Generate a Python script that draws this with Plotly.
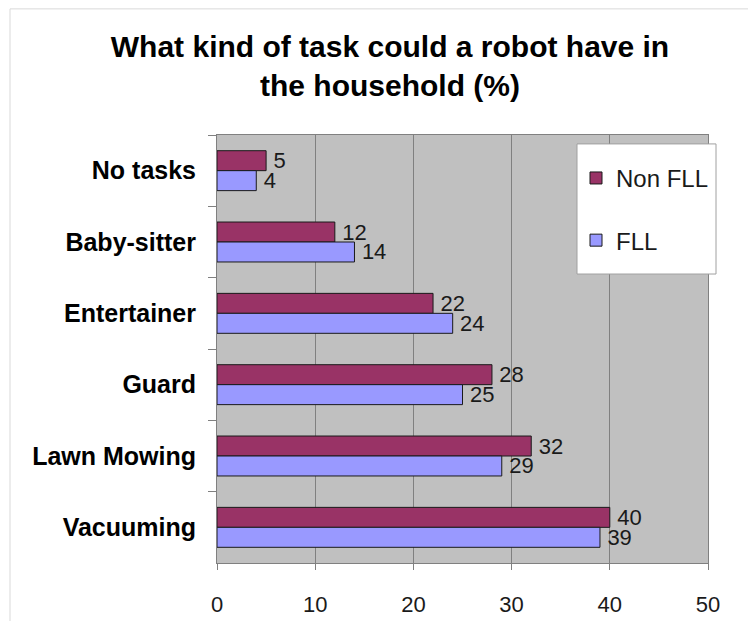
import plotly.graph_objects as go

# ---- data ----
categories = ["No tasks", "Baby-sitter", "Entertainer", "Guard", "Lawn Mowing", "Vacuuming"]
non_fll = [5, 12, 22, 28, 32, 40]
fll = [4, 14, 24, 25, 29, 39]
series_names = ["Non FLL", "FLL"]
x_ticks = [0, 10, 20, 30, 40, 50]
title_text = "What kind of task could a robot have in<br>the household (%)"

# ---- layout geometry (pixels, page has an 8px body offset) ----
OFF = 8
W, H = 756, 621
L, R, T, B = 217 - OFF, 56, 135 - OFF, 63
PW = W - L - R
PH = H - T - B


def px_x(p):
    return (p - OFF - L) / PW


def px_y(p):
    return (H - B - (p - OFF)) / PH


fig = go.Figure()
fig.add_trace(go.Bar(
    y=categories, x=non_fll, name=series_names[0], orientation="h",
    marker=dict(color="#993366", line=dict(color="#1a1a1a", width=1)),
    text=[f"\u2009{v}" for v in non_fll], textposition="outside",
    textfont=dict(family="Arial, Liberation Sans", size=22, color="#1a1a1a"),
    constraintext="none", cliponaxis=False, legendgroup="a",
))
fig.add_trace(go.Bar(
    y=categories, x=fll, name=series_names[1], orientation="h",
    marker=dict(color="#9999FF", line=dict(color="#1a1a1a", width=1)),
    text=[f"\u2009{v}" for v in fll], textposition="outside",
    textfont=dict(family="Arial, Liberation Sans", size=22, color="#1a1a1a"),
    constraintext="none", cliponaxis=False, legendgroup="b",
))

fig.update_layout(
    width=W, height=H,
    margin=dict(l=L, r=R, t=T, b=B, pad=0),
    paper_bgcolor="white",
    plot_bgcolor="#C0C0C0",
    barmode="group",
    bargap=0.44,
    bargroupgap=0,
    font=dict(family="Arial, Liberation Sans", color="#1a1a1a"),
    title=dict(
        text=title_text,
        font=dict(family="Arial, Liberation Sans", size=30, color="#000000", weight="bold"),
        x=(390 - OFF) / W, xanchor="center", xref="container",
        y=1 - 49 / H, yanchor="top", yref="container",
    ),
    xaxis=dict(
        range=[0, 50], tickvals=x_ticks, ticktext=[str(v) for v in x_ticks],
        showgrid=True, gridcolor="#808080", gridwidth=1,
        zeroline=False,
        showline=True, linecolor="#808080", linewidth=1, mirror=True,
        ticks="outside", ticklen=6, tickcolor="#808080",
        tickfont=dict(size=22, color="#1a1a1a"),
        ticklabelstandoff=16,
    ),
    yaxis=dict(
        type="category", categoryorder="array", categoryarray=categories,
        autorange="reversed",
        showgrid=False, zeroline=False,
        showline=True, linecolor="#808080", linewidth=1, mirror=True,
        ticks="outside", ticklen=8, tickcolor="#808080", tickson="boundaries",
        tickfont=dict(size=25, color="#000000", weight="bold"),
        ticklabelstandoff=15,
    ),
    legend=dict(
        x=px_x(576), xanchor="left", y=px_y(156), yanchor="top",
        bgcolor="rgba(0,0,0,0)", borderwidth=0,
        font=dict(size=24, color="#1a1a1a"),
        traceorder="grouped", tracegroupgap=28,
    ),
    showlegend=True,
    shapes=[
        # outer chart border
        dict(type="rect", xref="paper", yref="paper",
             x0=px_x(10), x1=px_x(W + 30), y0=px_y(H + 30), y1=px_y(8),
             line=dict(color="#d9d9d9", width=1), fillcolor="rgba(0,0,0,0)", layer="below"),
        # legend box
        dict(type="rect", xref="paper", yref="paper",
             x0=px_x(577), x1=px_x(716), y0=px_y(275), y1=px_y(144),
             line=dict(color="#a0a0a0", width=1), fillcolor="white", layer="above"),
    ],
)

fig.write_html("out.html")
